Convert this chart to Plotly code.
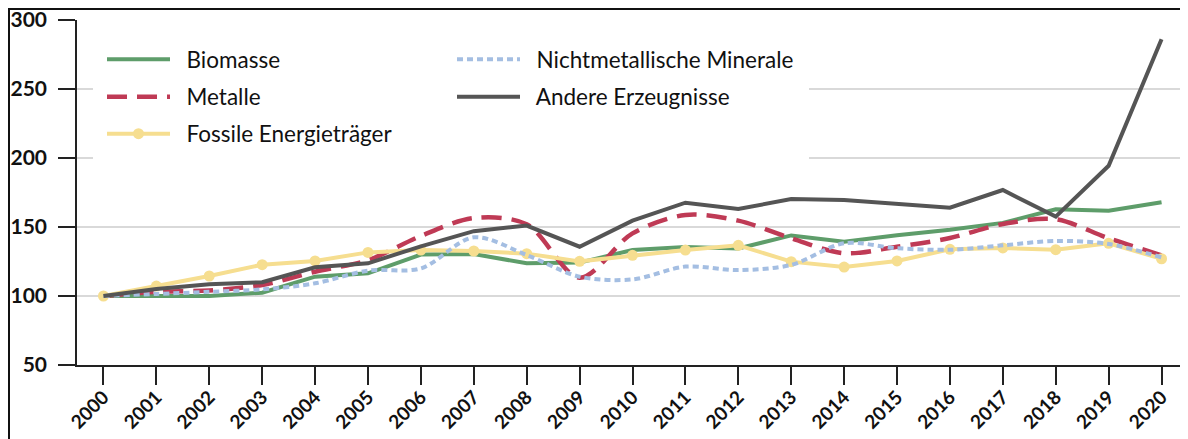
import plotly.graph_objects as go

years = [str(y) for y in range(2000, 2021)]
biomasse = [100, 100, 100, 102.4, 114, 116.4, 130, 130.4, 123.7, 124.2, 133.3, 135.5, 134.5, 143.9, 139.3, 144, 148, 153, 162.8, 161.8, 168]
metalle = [100, 103, 104, 108, 117.6, 126, 143.5, 156.5, 152, 113.3, 145.4, 158.7, 154.6, 141.8, 131, 135.7, 142, 152.2, 155.6, 141.8, 129.5]
fossile = [100, 107.2, 114.5, 122.7, 125.4, 131.6, 133.3, 132.6, 130.7, 125.1, 129.5, 133.3, 136.7, 124.9, 121, 125.4, 133.8, 134.8, 133.6, 138.2, 127]
minerale = [100, 101.5, 103, 104.8, 109.2, 118.4, 120, 142.5, 129.7, 114, 112, 121.3, 118.8, 122.5, 138.2, 134.6, 133.5, 136.7, 139.9, 137.7, 128]
andere = [100, 105, 108.5, 110, 120.8, 123.7, 136, 147, 151, 135.7, 154.6, 167.6, 163, 170.3, 169.6, 166.7, 164, 176.8, 157.5, 194.4, 286]

# page body has an 8px margin: figure is sized/offset so the viewport matches
OFF = 8
VW, VH = 1188, 439
PL, PT, PR, PB = 77, 20, 1188, 365          # plot area in viewport pixels
W, H = VW - OFF, VH - OFF
L, T = PL - OFF, PT - OFF
R, B = VW - PR, VH - PB
PW, PH = PR - PL, PB - PT

def px(x):
    return (x - PL) / PW

def py(y):
    return (PB - y) / PH

FONT = "Lato"
NB = "\u00a0\u00a0"
fig = go.Figure()

fig.add_trace(go.Scatter(x=years, y=biomasse, name=NB + "Biomasse", mode="lines",
                         line=dict(color="#5e9d6a", width=4), legend="legend"))
fig.add_trace(go.Scatter(x=years, y=metalle, name=NB + "Metalle", mode="lines",
                         line=dict(color="#bf3a55", width=4.5, dash="20px,10px", shape="spline", smoothing=0.9),
                         legend="legend2"))
fig.add_trace(go.Scatter(x=years, y=fossile, name=NB + "Fossile Energieträger", mode="lines+markers",
                         line=dict(color="#f6de90", width=4), marker=dict(size=11, color="#f6de90"),
                         legend="legend3"))
fig.add_trace(go.Scatter(x=years, y=minerale, name=NB + "Nichtmetallische Minerale", mode="lines",
                         line=dict(color="#a4bee2", width=4, dash="6px,4px", shape="spline", smoothing=0.9),
                         legend="legend4"))
fig.add_trace(go.Scatter(x=years, y=andere, name=NB + "Andere Erzeugnisse", mode="lines",
                         line=dict(color="#555555", width=4), legend="legend5"))

def leg(x, y):
    return dict(x=px(x), y=py(y), xanchor="left", yanchor="middle", bgcolor="rgba(0,0,0,0)",
                font=dict(family=FONT, size=22.5, color="#111"), itemwidth=63, borderwidth=0)

fig.update_layout(
    width=W, height=H,
    margin=dict(l=L, r=R, t=T, b=B, autoexpand=False),
    paper_bgcolor="white", plot_bgcolor="white",
    showlegend=True,
    legend=leg(102, 59.5),
    legend2=leg(102, 97),
    legend3=leg(102, 134),
    legend4=leg(452, 59.5),
    legend5=leg(452, 97),
    xaxis=dict(type="category", range=[-0.5, 20.5], showline=True, linecolor="#222", linewidth=1.5,
               ticks="outside", ticklen=18, tickwidth=1.5, tickcolor="#222", tickangle=-45, automargin=False,
               ticklabelstandoff=-6, ticklabeloverflow="allow",
               tickfont=dict(family=FONT, size=19, color="#111", weight="bold"), showgrid=False, zeroline=False),
    yaxis=dict(range=[50, 300], dtick=50, showline=True, linecolor="#222", linewidth=1.5, automargin=False,
               ticks="outside", ticklen=17, tickwidth=1.5, tickcolor="#222", ticklabelstandoff=7,
               ticklabeloverflow="allow",
               tickfont=dict(family=FONT, size=21, color="#111", weight="bold"),
               showgrid=True, gridcolor="#d9d9d9", gridwidth=1.5, zeroline=False),
    shapes=[
        dict(type="rect", xref="paper", yref="paper", x0=px(93), x1=px(809), y0=py(163), y1=py(25),
             fillcolor="white", line=dict(width=0), layer="above"),
        dict(type="rect", xref="paper", yref="paper", x0=px(9), x1=px(1195), y0=py(450), y1=py(9),
             fillcolor="rgba(0,0,0,0)", line=dict(color="#111", width=2), layer="above"),
    ],
)

fig.write_html("out.html")
